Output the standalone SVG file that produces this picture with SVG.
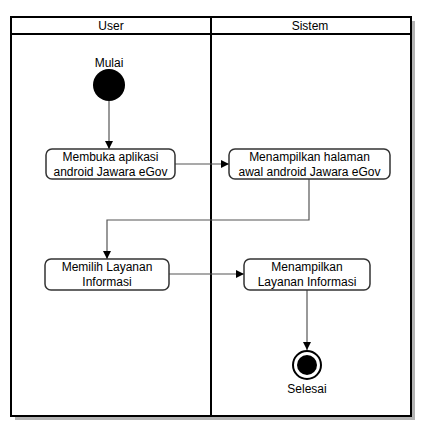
<svg xmlns="http://www.w3.org/2000/svg" width="433" height="437" viewBox="0 0 433 437">
<defs>
<style>
text{font-family:"Liberation Sans",Arial,sans-serif;font-size:12px;fill:#000;text-anchor:middle}
.node{fill:#fff;stroke:#333;stroke-width:1.5}
.frame{fill:none;stroke:#000;stroke-width:2}
.edge{fill:none;stroke:#555;stroke-width:1.2}
</style>
<marker id="arr" markerWidth="10" markerHeight="10" refX="9" refY="5" orient="auto" markerUnits="userSpaceOnUse">
<path d="M1,1 L9,5 L1,9 Z" fill="#000"/>
</marker>
</defs>
<rect width="433" height="437" fill="#fff"/>
<g id="shadow">
<rect x="15" y="21" width="400" height="399" fill="#b3b3b3"/>
</g>
<g id="lanes">
<rect x="11" y="17" width="400" height="399" fill="#fff" stroke="none"/>
<line x1="11" y1="34" x2="411" y2="34" stroke="#000" stroke-width="2"/>
<line x1="211" y1="17" x2="211" y2="416" stroke="#000" stroke-width="2"/>
<rect class="frame" x="11" y="17" width="400" height="399"/>
<text x="111" y="30">User</text>
<text x="310" y="30">Sistem</text>
</g>
<g id="connectors">
<path class="edge" d="M109,101 L109,149" marker-end="url(#arr)"/>
<path class="edge" d="M175,164 L229,164" marker-end="url(#arr)"/>
<path class="edge" d="M309,179 L309,220 L107,220 L107,259" marker-end="url(#arr)"/>
<path class="edge" d="M169,274 L244,274" marker-end="url(#arr)"/>
<path class="edge" d="M307,290 L307,350" marker-end="url(#arr)"/>
</g>
<g id="start">
<circle cx="109" cy="85" r="16" fill="#000"/>
<text x="109" y="67">Mulai</text>
</g>
<g id="n1">
<rect class="node" x="46" y="149" width="129" height="30" rx="6"/>
<text x="110.5" y="161">Membuka aplikasi</text>
<text x="110.5" y="176">android Jawara eGov</text>
</g>
<g id="n2">
<rect class="node" x="229" y="149" width="161" height="30" rx="6"/>
<text x="309.5" y="161">Menampilkan halaman</text>
<text x="309.5" y="176">awal android Jawara eGov</text>
</g>
<g id="n3">
<rect class="node" x="45" y="259" width="124" height="31" rx="6"/>
<text x="107" y="271">Memilih Layanan</text>
<text x="107" y="286">Informasi</text>
</g>
<g id="n4">
<rect class="node" x="244" y="259" width="126" height="31" rx="6"/>
<text x="307" y="271">Menampilkan</text>
<text x="307" y="286">Layanan Informasi</text>
</g>
<g id="end">
<circle cx="307" cy="365" r="14" fill="#fff" stroke="#000" stroke-width="2"/>
<circle cx="307" cy="365" r="10" fill="#000"/>
<text x="307" y="393">Selesai</text>
</g>
</svg>
